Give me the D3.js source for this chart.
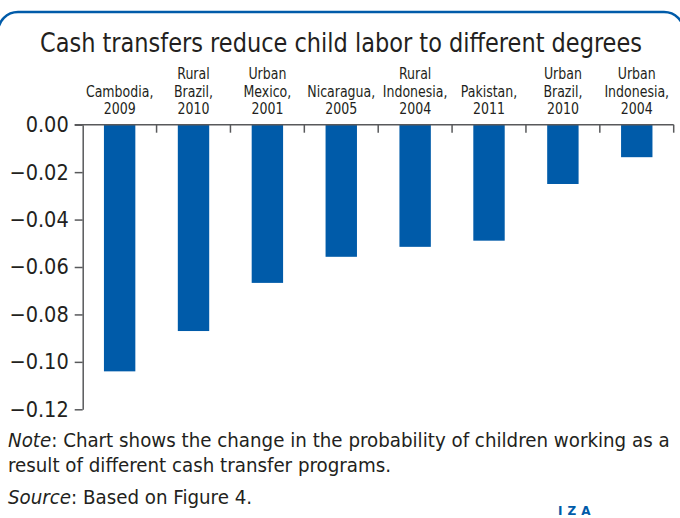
<!DOCTYPE html>
<html>
<head>
<meta charset="utf-8">
<script src="https://cdn.jsdelivr.net/npm/d3@7"></script>
<style>
  body { margin: 0; background: #fff; }
  svg { display: block; }
  text { font-family: "DejaVu Sans Condensed", "Liberation Sans Narrow", sans-serif; fill: #231f20; }
</style>
</head>
<body>
<svg id="chart" width="680" height="518"></svg>
<script>
const width = 680;
const height = 518;

// data
const programs = [
    ["", "Cambodia,", "2009"],
    ["Rural", "Brazil,", "2010"],
    ["Urban", "Mexico,", "2001"],
    ["", "Nicaragua,", "2005"],
    ["Rural", "Indonesia,", "2004"],
    ["", "Pakistan,", "2011"],
    ["Urban", "Brazil,", "2010"],
    ["Urban", "Indonesia,", "2004"]
];
const effects = [-0.104, -0.087, -0.0667, -0.0557, -0.0515, -0.0489, -0.025, -0.0137];
const yTicks = [0, -0.02, -0.04, -0.06, -0.08, -0.10, -0.12];

const blue = "#005ba9";
const axisGrey = "#58595b";

const svg = d3.select("#chart");

// squeeze a text horizontally, the original face is narrower than what we have
function condense(sel, factor) {
    sel.each(function() {
        const w = this.getComputedTextLength();
        d3.select(this)
            .attr("textLength", w * factor)
            .attr("lengthAdjust", "spacingAndGlyphs");
    });
}

// blue frame round the panel
svg.append("rect")
    .attr("x", -2)
    .attr("y", 12)
    .attr("width", 686)
    .attr("height", 540)
    .attr("rx", 20)
    .attr("fill", "none")
    .attr("stroke", blue)
    .attr("stroke-width", 2.5);

const title = svg.append("text")
    .attr("x", 341)
    .attr("y", 52)
    .attr("text-anchor", "middle")
    .style("font-size", "26px")
    .text("Cash transfers reduce child labor to different degrees");
// fit the title to the width it has in the original
title.attr("textLength", 602).attr("lengthAdjust", "spacingAndGlyphs");

const x = d3.scaleBand()
    .domain(d3.range(programs.length))
    .range([82.7, 673.7])
    .paddingInner(0.575)
    .paddingOuter(0.2875);

const y = d3.scaleLinear()
    .domain([-0.12, 0])
    .range([409.3, 124.7]);

// bars
svg.selectAll("rect.bar")
    .data(effects)
    .enter()
    .append("rect")
    .attr("class", "bar")
    .attr("x", (d, i) => x(i))
    .attr("y", y(0))
    .attr("width", x.bandwidth())
    .attr("height", d => y(d) - y(0))
    .attr("fill", blue);

// y axis
const yAxis = svg.append("g")
    .attr("transform", `translate(${x.range()[0]},0)`)
    .call(d3.axisLeft(y).tickValues(yTicks).tickFormat(d3.format(".2f")).tickSize(8).tickSizeOuter(0).tickPadding(6));
yAxis.select(".domain").attr("stroke", axisGrey).attr("stroke-width", 1.5);
yAxis.selectAll(".tick line").attr("stroke", axisGrey).attr("stroke-width", 1.5);
yAxis.selectAll(".tick text")
    .style("font-size", "21.5px")
    .attr("fill", "#231f20")
    .style("font-family", "\"DejaVu Sans Condensed\", sans-serif");

// x axis line at zero with ticks between categories
const step = x.step();
const bounds = d3.range(1, programs.length + 1).map(i => x.range()[0] + i * step);
svg.append("line")
    .attr("x1", x.range()[0] - 8)
    .attr("x2", x.range()[1])
    .attr("y1", y(0))
    .attr("y2", y(0))
    .attr("stroke", axisGrey)
    .attr("stroke-width", 1.5);
svg.selectAll("line.sep")
    .data(bounds)
    .enter()
    .append("line")
    .attr("class", "sep")
    .attr("x1", d => d)
    .attr("x2", d => d)
    .attr("y1", y(0))
    .attr("y2", y(0) + 8)
    .attr("stroke", axisGrey)
    .attr("stroke-width", 1.5);

// category labels above
const labels = svg.selectAll("g.cat")
    .data(programs)
    .enter()
    .append("g")
    .attr("class", "cat")
    .attr("transform", (d, i) => `translate(${x(i) + x.bandwidth() / 2},0)`);
labels.each(function(d) {
    const g = d3.select(this);
    d.forEach((line, k) => {
        if (!line) return;
        g.append("text")
            .attr("x", 0)
            .attr("y", 79 + k * 17.5)
            .attr("text-anchor", "middle")
            .style("font-size", "15.5px")
            .text(line);
    });
});
condense(labels.selectAll("text"), 0.9);

// notes
const note = svg.append("text")
    .attr("x", 8)
    .attr("y", 447)
    .style("font-size", "20.3px");
note.append("tspan").style("font-style", "italic").text("Note");
note.append("tspan").text(": Chart shows the change in the probability of children working as a");

svg.append("text")
    .attr("x", 8)
    .attr("y", 472)
    .style("font-size", "20.3px")
    .text("result of different cash transfer programs.");

const source = svg.append("text")
    .attr("x", 8)
    .attr("y", 504)
    .style("font-size", "20.3px");
source.append("tspan").style("font-style", "italic").text("Source");
source.append("tspan").text(": Based on Figure 4.");

svg.append("text")
    .attr("x", 558)
    .attr("y", 515)
    .style("font-size", "12px")
    .style("font-weight", "bold")
    .style("letter-spacing", "5px")
    .style("fill", blue)
    .style("font-family", "\"DejaVu Sans\", sans-serif")
    .text("IZA");
</script>
</body>
</html>
